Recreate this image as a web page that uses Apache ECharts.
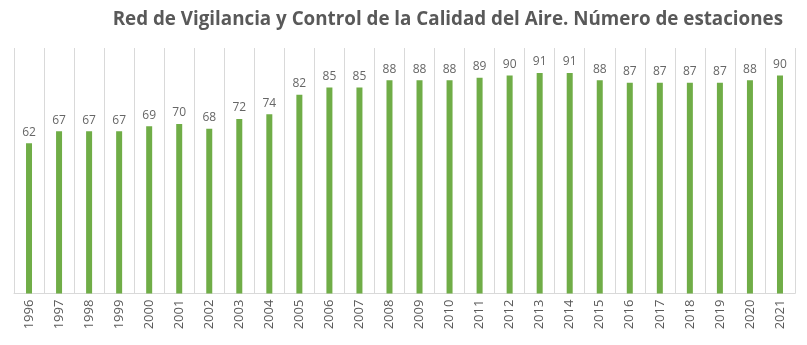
<!DOCTYPE html>
<html><head><meta charset="utf-8">
<script src="https://cdn.jsdelivr.net/npm/echarts@6/dist/echarts.min.js"></script>
<style>html,body{margin:0;padding:0;background:#fff}#c{width:807px;height:345px}</style>
</head><body><div id="c"></div>
<script>
var years = ['1996','1997','1998','1999','2000','2001','2002','2003','2004','2005','2006','2007','2008','2009','2010','2011','2012','2013','2014','2015','2016','2017','2018','2019','2020','2021'];
var stations = [62,67,67,67,69,70,68,72,74,82,85,85,88,88,88,89,90,91,91,88,87,87,87,87,88,90];
var titleText = 'Red de Vigilancia y Control de la Calidad del Aire. Número de estaciones';

var chart = echarts.init(document.getElementById('c'));
chart.setOption({
  animation: false,
  title: {
    text: titleText,
    right: 19, top: 5,
    textStyle: {fontFamily: 'Open Sans', fontWeight: 'bold', fontSize: 18.8, color: '#595959'}
  },
  grid: {left: 14, right: 12, top: 48, bottom: 51.4, containLabel: false},
  xAxis: {
    type: 'category', data: years, boundaryGap: true,
    axisLine: {lineStyle: {color: '#d9d9d9'}},
    axisTick: {show: false},
    splitLine: {show: true, interval: 0, lineStyle: {color: '#d9d9d9'}},
    axisLabel: {rotate: 90, interval: 0, margin: 6, color: '#595959', fontFamily: 'Open Sans', fontSize: 13}
  },
  yAxis: {type: 'value', min: 0, max: 101.3, show: false, splitLine: {show: false}},
  series: [{
    type: 'bar', data: stations, barWidth: 6,
    itemStyle: {color: '#70AD47'},
    label: {show: true, position: 'top', distance: 5, color: '#666666', fontFamily: 'Open Sans', fontSize: 12}
  }]
});
</script></body></html>
